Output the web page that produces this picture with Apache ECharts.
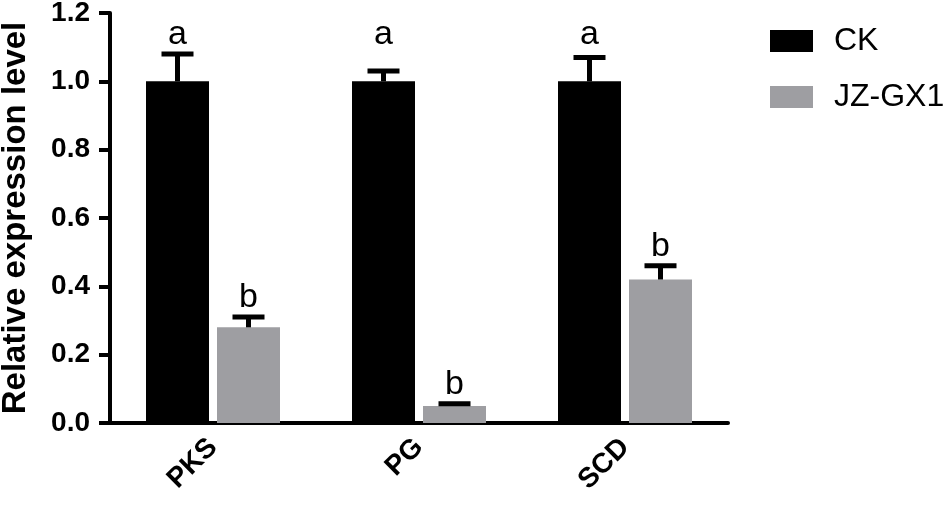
<!DOCTYPE html>
<html>
<head>
<meta charset="utf-8">
<script src="https://cdn.jsdelivr.net/npm/echarts@6/dist/echarts.min.js"></script>
<style>
html,body{margin:0;padding:0;background:#fff;}
#chart{width:951px;height:511px;}
</style>
</head>
<body>
<div id="chart"></div>
<script>
const categories = ['PKS', 'PG', 'SCD'];
const ckValues = [1.0, 1.0, 1.0];
const ckErrors = [0.08, 0.03, 0.07];
const ckLetters = ['a', 'a', 'a'];
const jzValues = [0.28, 0.05, 0.42];
const jzErrors = [0.03, 0.006, 0.04];
const jzLetters = ['b', 'b', 'b'];
const yTicks = ['0.0', '0.2', '0.4', '0.6', '0.8', '1.0', '1.2'];

const FONT = 'Liberation Sans, Arial, sans-serif';
const BAR_W = 63;
const BAR_GAP_PX = 8;
const OFFSET = (BAR_W + BAR_GAP_PX) / 2;

// letters for a series sit above the highest error cap of that series when aligned
function errSeries(values, errors, letters, side, alignLetters) {
  const tops = values.map((v, i) => v + errors[i]);
  const maxTop = Math.max.apply(null, tops);
  return {
    type: 'custom',
    z: 5,
    silent: true,
    data: values.map((v, i) => [i, v, errors[i]]),
    renderItem: function (params, api) {
      const idx = api.value(0), v = api.value(1), e = api.value(2);
      const base = api.coord([idx, v]);
      const top = api.coord([idx, v + e]);
      const letterAt = api.coord([idx, alignLetters ? maxTop : v + e]);
      const x = base[0] + side * OFFSET;
      const capHalf = 16;
      return {
        type: 'group',
        children: [
          { type: 'line', shape: { x1: x, y1: base[1], x2: x, y2: top[1] }, style: { stroke: '#000', lineWidth: 5 } },
          { type: 'line', shape: { x1: x - capHalf, y1: top[1], x2: x + capHalf, y2: top[1] }, style: { stroke: '#000', lineWidth: 5 } },
          { type: 'text', x: x, y: letterAt[1] - 2, style: { text: letters[params.dataIndex], fill: '#000', font: '34px ' + FONT, align: 'center', verticalAlign: 'bottom' } }
        ]
      };
    }
  };
}

const chart = echarts.init(document.getElementById('chart'), null, { renderer: 'canvas' });
chart.setOption({
  animation: false,
  backgroundColor: '#fff',
  textStyle: { fontFamily: FONT },
  grid: { left: 110, right: 223, top: 13, bottom: 88, containLabel: false, outerBoundsMode: 'none' },
  legend: {
    orient: 'vertical',
    left: 765,
    top: 20,
    itemWidth: 43,
    itemHeight: 22,
    itemGap: 24,
    icon: 'rect',
    textStyle: { fontSize: 32, color: '#000', fontFamily: FONT, padding: [0, 0, 0, 16] },
    data: ['CK', 'JZ-GX1']
  },
  xAxis: {
    type: 'category',
    data: categories,
    axisLine: { lineStyle: { color: '#000', width: 4 } },
    axisTick: { alignWithLabel: true, length: 12, lineStyle: { color: '#000', width: 4 } },
    axisLabel: { rotate: 45, margin: 20, color: '#000', fontSize: 28, fontWeight: 'bold', fontFamily: FONT },
    splitLine: { show: false }
  },
  yAxis: {
    type: 'value',
    min: 0,
    max: 1.2,
    interval: 0.2,
    name: 'Relative expression level',
    nameLocation: 'middle',
    nameGap: 78,
    nameTextStyle: { fontSize: 33, fontWeight: 'bold', color: '#000', fontFamily: FONT },
    axisLine: { show: true, lineStyle: { color: '#000', width: 4 } },
    axisTick: { show: true, length: 11, lineStyle: { color: '#000', width: 4 } },
    axisLabel: { margin: 20, color: '#000', fontSize: 28, fontWeight: 'bold', fontFamily: FONT,
      formatter: function (v) { return yTicks[Math.round(v / 0.2)]; } },
    splitLine: { show: false }
  },
  series: [
    { name: 'CK', type: 'bar', data: ckValues, barWidth: BAR_W, barGap: (BAR_GAP_PX / BAR_W * 100) + '%', itemStyle: { color: '#000' } },
    { name: 'JZ-GX1', type: 'bar', data: jzValues, barWidth: BAR_W, itemStyle: { color: '#9e9ea2' } },
    errSeries(ckValues, ckErrors, ckLetters, -1, true),
    errSeries(jzValues, jzErrors, jzLetters, 1, false)
  ]
});
</script>
</body>
</html>
